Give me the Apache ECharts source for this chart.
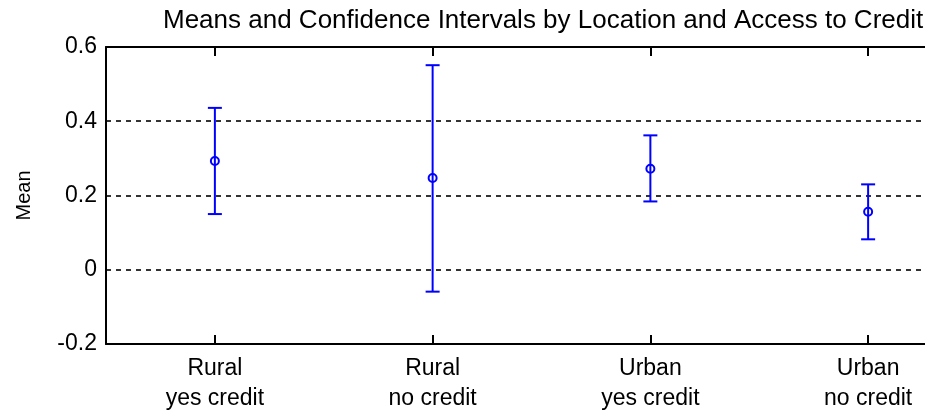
<!DOCTYPE html>
<html>
<head>
<meta charset="utf-8">
<script src="https://cdn.jsdelivr.net/npm/echarts@6/dist/echarts.min.js"></script>
<style>
  html, body { margin: 0; padding: 0; background: #fff; }
  #chart { width: 925px; height: 416px; }
</style>
</head>
<body>
<div id="chart"></div>
<script>
// categories and interval values
var categories = ['Rural\nyes credit', 'Rural\nno credit', 'Urban\nyes credit', 'Urban\nno credit'];
var means = [0.293, 0.247, 0.272, 0.156];
var lower = [0.150, -0.059, 0.184, 0.082];
var upper = [0.436, 0.551, 0.362, 0.230];
var yTicks = [-0.2, 0, 0.2, 0.4, 0.6];

var fontName = 'Liberation Sans';
var blue = '#0000ff';

var chart = echarts.init(document.getElementById('chart'));

var barData = categories.map(function (c, i) {
    return [i, lower[i], upper[i], means[i]];
});

var option = {
    animation: false,
    title: {
        text: 'Means and Confidence Intervals by Location and Access to Credit',
        left: 158,
        top: 3,
        textStyle: { fontFamily: fontName, fontSize: 26, fontWeight: 'normal', color: '#000' }
    },
    // plot box runs past the right edge of the picture, as in the reference
    grid: { left: 106, top: 47, width: 871, height: 297, outerBoundsMode: 'none', containLabel: false },
    xAxis: [{
        type: 'category',
        data: categories,
        position: 'bottom',
        axisLine: { onZero: false, lineStyle: { color: '#000', width: 2 } },
        axisTick: { show: true, inside: true, alignWithLabel: true, length: 9, lineStyle: { color: '#000', width: 2 } },
        axisLabel: { fontFamily: fontName, fontSize: 23, color: '#000', margin: 10, lineHeight: 30 },
        splitLine: { show: false }
    }, {
        type: 'category',
        data: categories,
        position: 'top',
        axisLine: { onZero: false, lineStyle: { color: '#000', width: 2 } },
        axisTick: { show: true, inside: true, alignWithLabel: true, length: 9, lineStyle: { color: '#000', width: 2 } },
        axisLabel: { show: false }
    }],
    yAxis: {
        type: 'value',
        min: -0.2,
        max: 0.6,
        interval: 0.2,
        name: 'Mean',
        nameLocation: 'middle',
        nameGap: 72,
        nameTextStyle: { fontFamily: fontName, fontSize: 20, color: '#000' },
        axisLine: { show: true, lineStyle: { color: '#000', width: 2 } },
        axisTick: { show: false },
        axisLabel: {
            fontFamily: fontName, fontSize: 23, color: '#000', margin: 9,
            formatter: function (v) {
                var r = Math.round(v * 10) / 10;
                return yTicks.indexOf(r) >= 0 ? String(r) : '';
            }
        },
        splitLine: {
            show: true,
            lineStyle: { color: '#333', type: [5, 5], width: 2 }
        }
    },
    series: [{
        type: 'custom',
        data: barData,
        encode: { x: 0, y: [1, 2, 3] },
        renderItem: function (params, api) {
            var x = api.value(0);
            var lo = api.coord([x, api.value(1)]);
            var hi = api.coord([x, api.value(2)]);
            var mid = api.coord([x, api.value(3)]);
            var cap = 7;
            var st = { stroke: blue, lineWidth: 2, fill: null };
            return {
                type: 'group',
                children: [
                    { type: 'line', shape: { x1: hi[0], y1: hi[1], x2: lo[0], y2: lo[1] }, style: st },
                    { type: 'line', shape: { x1: hi[0] - cap, y1: hi[1], x2: hi[0] + cap, y2: hi[1] }, style: st },
                    { type: 'line', shape: { x1: lo[0] - cap, y1: lo[1], x2: lo[0] + cap, y2: lo[1] }, style: st },
                    { type: 'circle', shape: { cx: mid[0], cy: mid[1], r: 4 }, style: { stroke: blue, lineWidth: 2, fill: null } }
                ]
            };
        }
    }]
};

chart.setOption(option);
</script>
</body>
</html>
